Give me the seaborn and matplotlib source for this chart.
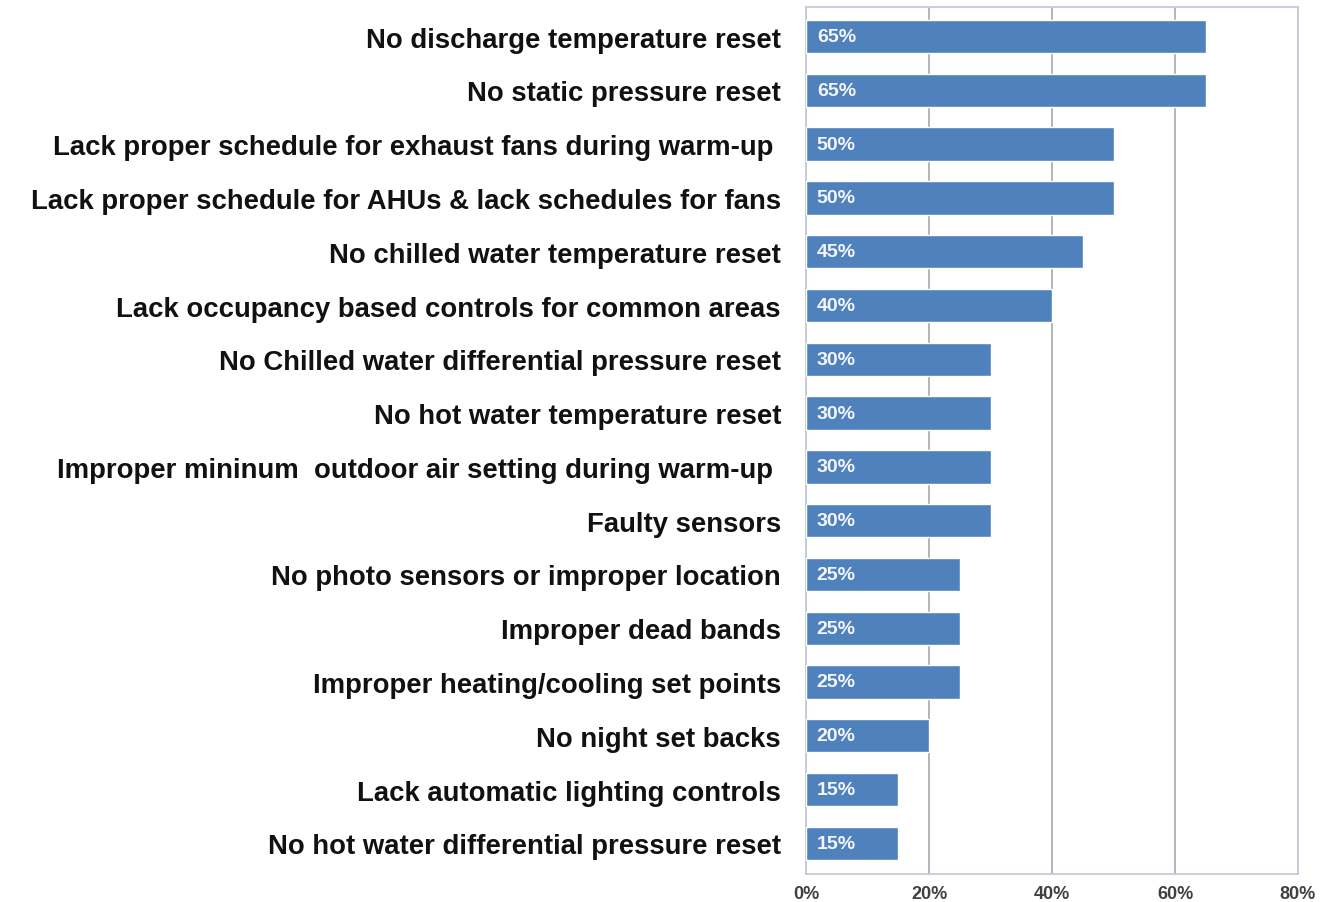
import matplotlib
matplotlib.use("Agg")
import matplotlib.pyplot as plt
import seaborn as sns
import pandas as pd
from matplotlib.ticker import FuncFormatter

categories = [
    "No discharge temperature reset",
    "No static pressure reset",
    "Lack proper schedule for exhaust fans during warm-up ",
    "Lack proper schedule for AHUs & lack schedules for fans",
    "No chilled water temperature reset",
    "Lack occupancy based controls for common areas",
    "No Chilled water differential pressure reset",
    "No hot water temperature reset",
    "Improper mininum  outdoor air setting during warm-up ",
    "Faulty sensors",
    "No photo sensors or improper location",
    "Improper dead bands",
    "Improper heating/cooling set points",
    "No night set backs",
    "Lack automatic lighting controls",
    "No hot water differential pressure reset",
]
values = [65, 65, 50, 50, 45, 40, 30, 30, 30, 30, 25, 25, 25, 20, 15, 15]
x_ticks = [0, 20, 40, 60, 80]

df = pd.DataFrame({"category": categories, "value": values})

sns.set_theme(style="white")
plt.rcParams["font.family"] = ["Liberation Sans", "DejaVu Sans"]

fig = plt.figure(figsize=(13.42, 9.03), dpi=100)
ax = fig.add_axes([806 / 1342, 1 - 875 / 903, (1298 - 806) / 1342, (875 - 8) / 903])

sns.barplot(data=df, x="value", y="category", orient="h", color="#4F81BD",
            saturation=1, width=0.62, ax=ax, zorder=3)

ax.set_xlim(0, 80)
ax.set_ylim(15.57, -0.55)
ax.set_xticks(x_ticks)
ax.xaxis.set_major_formatter(FuncFormatter(lambda v, p: f"{int(v)}%"))
ax.grid(axis="x", color="#B4B4B4", linewidth=1.4, zorder=0)
ax.grid(axis="y", visible=False)
for s in ax.spines.values():
    s.set_color("#C4CCD8")
    s.set_linewidth(1.3)

ax.set_xlabel("")
ax.set_ylabel("")
ax.tick_params(axis="x", length=0, pad=8, labelsize=13, labelcolor="#404040")
ax.tick_params(axis="y", length=0, pad=18, labelsize=19.8, labelcolor="#111111")
for lbl in ax.get_xticklabels():
    lbl.set_fontweight("bold")
for lbl in ax.get_yticklabels():
    lbl.set_fontweight("bold")

for i, v in enumerate(values):
    ax.text(1.75, i, f"{v}%", color="#F4F6FA", fontsize=14, fontweight="bold",
            va="center", ha="left", zorder=4)

fig.savefig("out.png", dpi=100)
